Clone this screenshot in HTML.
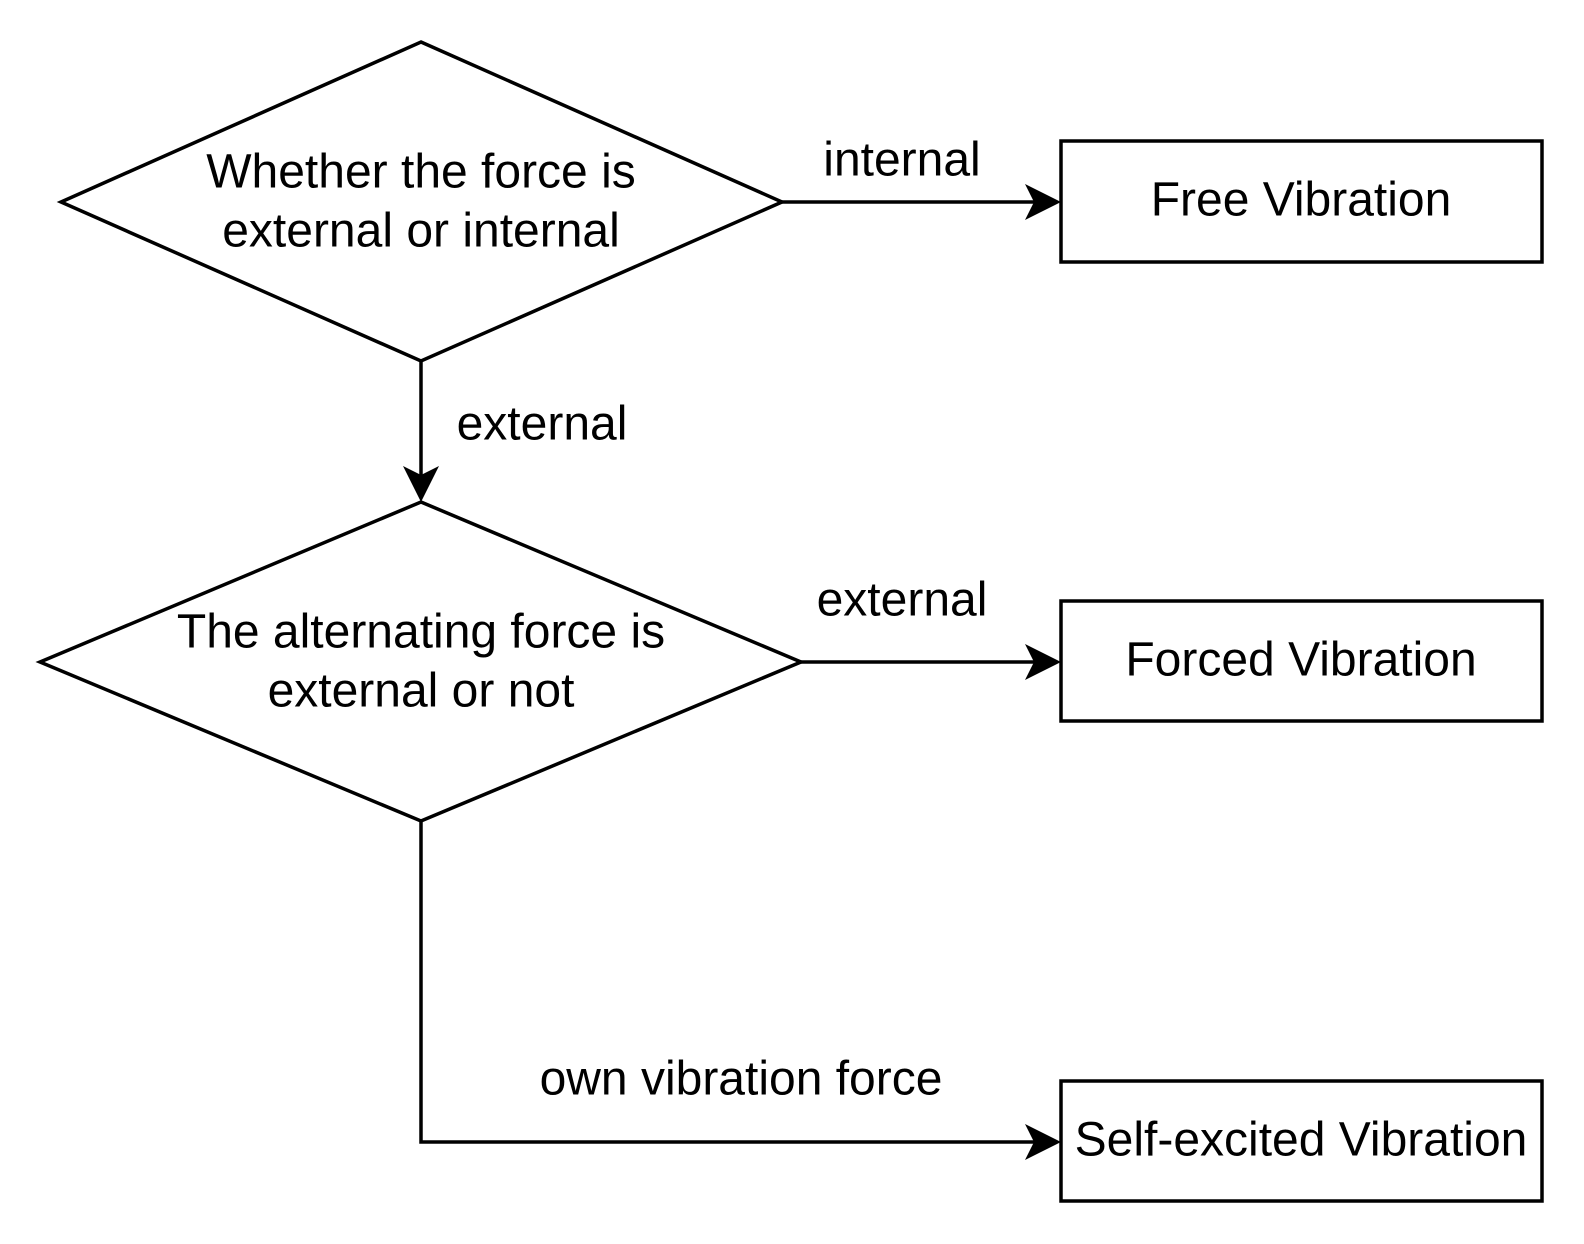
<!DOCTYPE html>
<html><head><meta charset="utf-8"><style>body{margin:0;background:#fff}svg{display:block}</style></head><body>
<svg width="1584" height="1244" viewBox="0 0 1584 1244" xmlns="http://www.w3.org/2000/svg" font-family="Liberation Sans, Arial, sans-serif" font-size="48" text-anchor="middle">
<g fill="#fff" stroke="#000" stroke-width="3.5">
<polygon points="421,42 782,202 421,361 61,202"/>
<polygon points="421,502 801,662 421,821 40,662"/>
<rect x="1061" y="141" width="481" height="121"/>
<rect x="1061" y="601" width="481" height="120"/>
<rect x="1061" y="1081" width="481" height="120"/>
</g>
<g stroke="#000" stroke-width="3.5" fill="none">
<line x1="782" y1="202" x2="1040" y2="202"/>
<line x1="801" y1="662" x2="1040" y2="662"/>
<line x1="421" y1="361" x2="421" y2="482"/>
<polyline points="421,821 421,1142 1040,1142"/>
</g>
<g fill="#000">
<path d="M1061,202 L1025,184 L1034,202 L1025,220 Z"/>
<path d="M1061,662 L1025,644 L1034,662 L1025,680 Z"/>
<path d="M1061,1142 L1025,1124 L1034,1142 L1025,1160 Z"/>
<path d="M421,502 L403,466 L421,475 L439,466 Z"/>
</g>
<g fill="#000" dominant-baseline="central">
<text x="421" y="172">Whether the force is</text>
<text x="421" y="231">external or internal</text>
<text x="421" y="632">The alternating force is</text>
<text x="421" y="691">external or not</text>
<text x="1301" y="200">Free Vibration</text>
<text x="1301" y="660">Forced Vibration</text>
<text x="1301" y="1140">Self-excited Vibration</text>
<text x="902" y="160">internal</text>
<text x="542" y="424">external</text>
<text x="902" y="600">external</text>
<text x="741" y="1079">own vibration force</text>
</g>
</svg>
</body></html>
